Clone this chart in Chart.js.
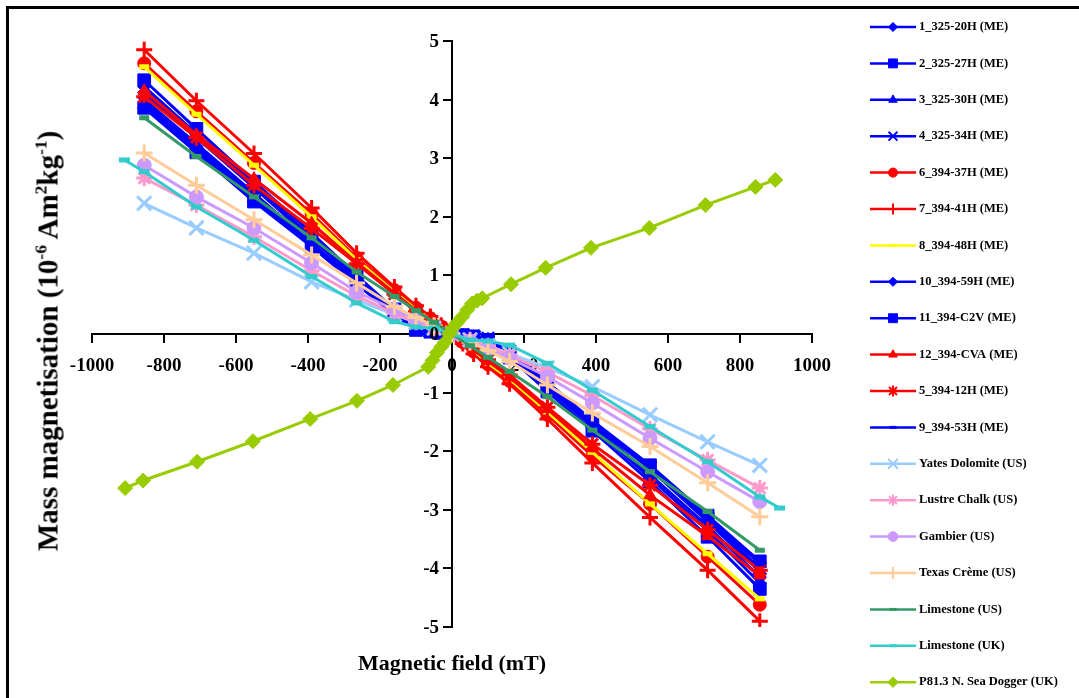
<!DOCTYPE html>
<html>
<head>
<meta charset="utf-8">
<title>Mass magnetisation vs field</title>
<script src="https://cdn.jsdelivr.net/npm/chart.js@4.4.0/dist/chart.umd.min.js"></script>
<style>
  html, body { margin: 0; padding: 0; background: #fff; overflow: hidden; }
  #wrap { position: relative; width: 1079px; height: 698px; overflow: hidden; }
  #frame { position: absolute; left: 6px; top: 6px; width: 1120px; height: 740px; border: 3px solid #000; }
  #chart { position: absolute; left: 0; top: 0; }
  .title { position: absolute; font-family: "Times New Roman", "Liberation Serif", serif; font-weight: bold; color: #000; white-space: nowrap; }
  #xTitle { left: 452px; top: 663px; font-size: 22px; transform: translate(-50%, -50%); }
  #yTitle { left: 48px; top: 341px; font-size: 29px; transform: translate(-50%, -50%) rotate(-90deg); }
  sup { font-size: 60%; vertical-align: super; line-height: 0; }
</style>
</head>
<body>
<div id="wrap">
  <div id="frame"></div>
  <canvas id="chart" width="1079" height="698"></canvas>
  <div class="title" id="xTitle">Magnetic field (mT)</div>
  <div class="title" id="yTitle">Mass magnetisation (10<sup>-6</sup> Am<sup>2</sup>kg<sup>-1</sup>)</div>
</div>
<script>
// Applied field steps (mT)
const fieldME = [-855, -710, -550, -390, -265, -160, -100, -60, -30, 0, 30, 60, 100, 160, 265, 390, 550, 710, 855];
const fieldUS = [-855, -710, -550, -390, -265, -160, -100, -50, 0, 50, 100, 160, 265, 390, 550, 710, 855];
const fieldUK = [-910, -855, -710, -550, -390, -265, -160, -100, -50, 0, 50, 100, 160, 265, 390, 550, 710, 855, 910];
const fieldDogger = [-908, -858, -708, -553, -394, -264, -164, -66, -54, -42, -30, -20, -8, 2, 14, 28, 42, 56, 70, 84, 164, 260, 386, 548, 704, 843, 898];

// Mass magnetisation (10^-6 Am2/kg)
const m1_325_20H = [4.22, 3.42, 2.55, 1.65, 0.95, 0.40, 0.10, 0.06, 0.03, 0, -0.03, -0.06, -0.12, -0.38, -0.92, -1.58, -2.45, -3.35, -4.25];
const m2_325_27H = [4.33, 3.50, 2.60, 1.72, 1.00, 0.42, 0.10, 0.06, 0.03, 0, -0.03, -0.06, -0.10, -0.40, -0.98, -1.65, -2.52, -3.46, -4.35];
const m3_325_30H = [4.00, 3.25, 2.40, 1.55, 0.90, 0.38, 0.09, 0.05, 0.02, 0, -0.02, -0.05, -0.09, -0.35, -0.88, -1.52, -2.30, -3.20, -4.05];
const m4_325_34H = [3.95, 3.20, 2.35, 1.52, 0.88, 0.36, 0.08, 0.05, 0.02, 0, -0.02, -0.05, -0.08, -0.34, -0.86, -1.50, -2.28, -3.16, -4.00];
const m6_394_37H = [4.62, 3.80, 2.92, 2.05, 1.30, 0.75, 0.45, 0.27, 0.13, 0, -0.14, -0.30, -0.52, -0.80, -1.38, -2.08, -2.90, -3.80, -4.62];
const m7_394_41H = [4.85, 3.98, 3.08, 2.15, 1.38, 0.80, 0.48, 0.30, 0.15, 0, -0.16, -0.34, -0.56, -0.85, -1.45, -2.20, -3.13, -4.03, -4.90];
const m8_394_48H = [4.56, 3.75, 2.88, 2.00, 1.27, 0.72, 0.42, 0.25, 0.12, 0, -0.13, -0.28, -0.50, -0.77, -1.33, -2.02, -2.90, -3.75, -4.52];
const m10_394_59H = [4.12, 3.35, 2.50, 1.62, 0.96, 0.40, 0.10, 0.06, 0.03, 0, -0.03, -0.06, -0.10, -0.37, -0.90, -1.55, -2.40, -3.28, -4.15];
const m11_394_C2V = [3.86, 3.10, 2.26, 1.49, 0.85, 0.33, 0.07, 0.04, 0.02, 0, -0.02, -0.04, -0.10, -0.30, -0.82, -1.48, -2.24, -3.10, -3.88];
const m12_394_CVA = [4.15, 3.40, 2.65, 1.89, 1.22, 0.70, 0.40, 0.24, 0.12, 0, -0.13, -0.27, -0.46, -0.74, -1.28, -1.95, -2.75, -3.45, -4.12];
const m5_394_12H = [4.05, 3.35, 2.54, 1.80, 1.20, 0.68, 0.38, 0.22, 0.11, 0, -0.12, -0.25, -0.44, -0.70, -1.25, -1.88, -2.58, -3.34, -4.03];
const m9_394_53H = [3.90, 3.15, 2.30, 1.50, 0.87, 0.35, 0.08, 0.05, 0.02, 0, -0.02, -0.05, -0.08, -0.33, -0.85, -1.50, -2.26, -3.14, -3.92];
const yatesDolomite = [2.23, 1.81, 1.38, 0.89, 0.58, 0.33, 0.20, 0.10, 0, -0.10, -0.20, -0.33, -0.58, -0.90, -1.38, -1.84, -2.24];
const lustreChalk = [2.66, 2.20, 1.66, 1.08, 0.65, 0.35, 0.20, 0.10, 0, -0.10, -0.20, -0.36, -0.65, -1.05, -1.62, -2.15, -2.63];
const gambier = [2.88, 2.34, 1.81, 1.21, 0.72, 0.41, 0.25, 0.12, 0, -0.12, -0.25, -0.41, -0.73, -1.18, -1.78, -2.35, -2.86];
const texasCreme = [3.09, 2.54, 1.95, 1.35, 0.87, 0.47, 0.28, 0.14, 0, -0.14, -0.28, -0.47, -0.87, -1.35, -1.92, -2.54, -3.12];
const limestoneUS = [3.69, 3.03, 2.34, 1.64, 1.06, 0.64, 0.40, 0.20, 0, -0.20, -0.40, -0.64, -1.07, -1.64, -2.35, -3.03, -3.69];
const limestoneUK = [2.97, 2.77, 2.17, 1.60, 0.98, 0.53, 0.21, 0.12, 0.10, 0, -0.10, -0.12, -0.19, -0.50, -0.96, -1.58, -2.18, -2.78, -2.97];
const dogger = [-2.63, -2.50, -2.18, -1.83, -1.45, -1.14, -0.87, -0.56, -0.45, -0.32, -0.22, -0.14, 0.00, 0.10, 0.19, 0.29, 0.41, 0.52, 0.57, 0.61, 0.85, 1.13, 1.47, 1.81, 2.20, 2.51, 2.63];

const xTicks = { min: -1000, max: 1000, step: 200 };
const yTicks = { min: -5, max: 5, step: 1 };

// label, field, values, colour, marker, radius
const series = [
  ['1_325-20H (ME)', fieldME, m1_325_20H, '#0000FF', 'rectRot', 6.5],
  ['2_325-27H (ME)', fieldME, m2_325_27H, '#0000FF', 'rect', 9],
  ['3_325-30H (ME)', fieldME, m3_325_30H, '#0000FF', 'triangle', 7],
  ['4_325-34H (ME)', fieldME, m4_325_34H, '#0000FF', 'crossRot', 9],
  ['6_394-37H (ME)', fieldME, m6_394_37H, '#FF0000', 'circle', 6.5],
  ['7_394-41H (ME)', fieldME, m7_394_41H, '#FF0000', 'cross', 8],
  ['8_394-48H (ME)', fieldME, m8_394_48H, '#FFFF00', 'line', 5],
  ['10_394-59H (ME)', fieldME, m10_394_59H, '#0000FF', 'rectRot', 6.5],
  ['11_394-C2V (ME)', fieldME, m11_394_C2V, '#0000FF', 'rect', 9],
  ['12_394-CVA (ME)', fieldME, m12_394_CVA, '#FF0000', 'triangle', 7],
  ['5_394-12H (ME)', fieldME, m5_394_12H, '#FF0000', 'star', 8],
  ['9_394-53H (ME)', fieldME, m9_394_53H, '#0000FF', 'line', 5],
  ['Yates Dolomite (US)', fieldUS, yatesDolomite, '#99CCFF', 'crossRot', 10],
  ['Lustre Chalk (US)', fieldUS, lustreChalk, '#FF99CC', 'star', 8],
  ['Gambier (US)', fieldUS, gambier, '#CC99FF', 'circle', 7],
  ['Texas Crème (US)', fieldUS, texasCreme, '#FFCC99', 'cross', 8.5],
  ['Limestone (US)', fieldUS, limestoneUS, '#339966', 'line', 5],
  ['Limestone (UK)', fieldUK, limestoneUK, '#33CCCC', 'line', 5.5],
  ['P81.3 N. Sea Dogger (UK)', fieldDogger, dogger, '#99CC00', 'rectRot', 7.5]
];

const openMarkers = ['cross', 'crossRot', 'star', 'line'];
const serif = '"Times New Roman", "Liberation Serif", serif';
const tickFont = 'bold 19px ' + serif;

const datasets = series.map(([label, field, values, color, marker, radius], i) => ({
  label: label,
  data: field.map((x, k) => ({ x: x, y: values[k] })),
  showLine: true,
  borderColor: color,
  backgroundColor: color,
  borderWidth: 3,
  pointStyle: marker,
  pointRadius: radius,
  pointBorderColor: color,
  pointBackgroundColor: color,
  pointBorderWidth: marker === 'line' ? 5 : (openMarkers.includes(marker) ? 3 : 1),
  tension: 0,
  order: series.length - i
}));

// y labels sit left of the centred y axis
const yAxisLabels = {
  id: 'yAxisLabels',
  afterDraw(chart) {
    const ctx = chart.ctx;
    const ys = chart.scales.y;
    const x0 = chart.scales.x.getPixelForValue(0);
    ctx.save();
    ctx.fillStyle = '#000';
    ctx.font = tickFont;
    ctx.textAlign = 'right';
    ctx.textBaseline = 'middle';
    ys.ticks.forEach(t => ctx.fillText(String(t.value), x0 - 13, ys.getPixelForValue(t.value) + 1));
    ctx.restore();
  }
};

// Legend down the right side: line sample, marker, name
const sideLegend = {
  id: 'sideLegend',
  afterDraw(chart) {
    const ctx = chart.ctx;
    ctx.save();
    series.forEach(([label, , , color, marker, radius], i) => {
      const y = 27 + i * 36.4;
      ctx.strokeStyle = color;
      ctx.lineWidth = 2.5;
      ctx.beginPath();
      ctx.moveTo(870, y);
      ctx.lineTo(916, y);
      ctx.stroke();
      if (Chart.helpers && Chart.helpers.drawPoint) {
        ctx.fillStyle = color;
        ctx.lineWidth = marker === 'line' ? 3 : (openMarkers.includes(marker) ? 2 : 1);
        Chart.helpers.drawPoint(ctx, {
          pointStyle: marker,
          rotation: 0,
          radius: marker === 'line' ? 3.5 : radius * 0.7,
          borderWidth: ctx.lineWidth
        }, 893, y);
      }
      ctx.fillStyle = '#000';
      ctx.font = 'bold 12.5px ' + serif;
      ctx.textAlign = 'left';
      ctx.textBaseline = 'middle';
      ctx.fillText(label, 919, y);
    });
    ctx.restore();
  }
};

new Chart(document.getElementById('chart'), {
  type: 'scatter',
  data: { datasets: datasets },
  options: {
    responsive: false,
    animation: false,
    layout: { padding: { left: 92, right: 267, top: 41, bottom: 71 } },
    plugins: { legend: { display: false }, tooltip: { enabled: false } },
    scales: {
      x: {
        type: 'linear',
        position: { y: 0 },
        min: xTicks.min,
        max: xTicks.max,
        ticks: {
          stepSize: xTicks.step,
          color: '#000',
          padding: 13,
          font: { family: serif, size: 19, weight: 'bold' },
          callback: v => String(v)
        },
        grid: { drawOnChartArea: false, drawTicks: true, tickLength: 8, color: '#000', lineWidth: 2 },
        border: { color: '#000', width: 2 }
      },
      y: {
        type: 'linear',
        position: { x: 0 },
        min: yTicks.min,
        max: yTicks.max,
        ticks: { stepSize: yTicks.step, display: false },
        grid: { drawOnChartArea: false, drawTicks: true, tickLength: 8, color: '#000', lineWidth: 2 },
        border: { color: '#000', width: 2 }
      }
    }
  },
  plugins: [yAxisLabels, sideLegend]
});
</script>
</body>
</html>
